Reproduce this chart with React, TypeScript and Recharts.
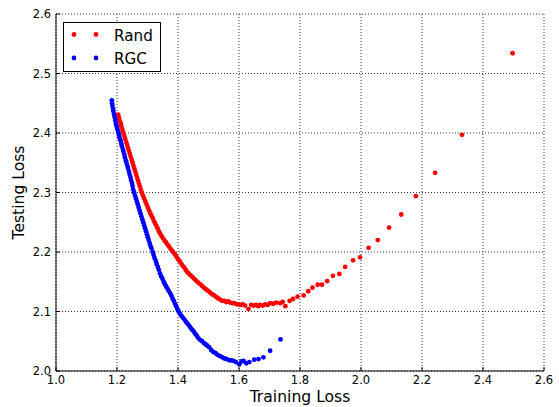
import React from 'react';
import { ScatterChart, Scatter, XAxis, YAxis, CartesianGrid } from 'recharts';

const xTicks = [1.0, 1.2, 1.4, 1.6, 1.8, 2.0, 2.2, 2.4, 2.6];
const yTicks = [2.0, 2.1, 2.2, 2.3, 2.4, 2.5, 2.6];

const randX = [
  1.204, 1.206, 1.208, 1.211, 1.213, 1.215, 1.218, 1.221, 1.224, 1.227, 1.230, 1.233, 1.236, 1.239, 1.242, 1.245,
  1.248, 1.251, 1.254, 1.257, 1.260, 1.263, 1.266, 1.269, 1.272, 1.275, 1.278, 1.281, 1.285, 1.289, 1.293, 1.297,
  1.301, 1.305, 1.309, 1.313, 1.317, 1.321, 1.325, 1.329, 1.333, 1.337, 1.341, 1.346, 1.351, 1.356, 1.361, 1.366,
  1.371, 1.376, 1.381, 1.385, 1.390, 1.395, 1.400, 1.405, 1.410, 1.415, 1.420, 1.425, 1.429, 1.435, 1.441, 1.447,
  1.453, 1.459, 1.465, 1.473, 1.479, 1.485, 1.492, 1.498, 1.505, 1.512, 1.519, 1.526, 1.532, 1.538, 1.545, 1.552,
  1.558, 1.565, 1.571, 1.578, 1.585, 1.592, 1.598, 1.605, 1.612, 1.620, 1.631, 1.640, 1.648, 1.656, 1.663, 1.669,
  1.678, 1.686, 1.694, 1.702, 1.712, 1.722, 1.735, 1.743, 1.752, 1.766, 1.777, 1.792, 1.812, 1.827, 1.841, 1.858,
  1.872, 1.889, 1.908, 1.929, 1.948, 1.974, 1.997, 2.025, 2.055, 2.092, 2.132, 2.180, 2.243, 2.331, 2.497,
];
const randY = [
  2.431, 2.426, 2.422, 2.418, 2.414, 2.410, 2.405, 2.400, 2.395, 2.390, 2.385, 2.380, 2.375, 2.370, 2.365, 2.360,
  2.355, 2.350, 2.345, 2.340, 2.335, 2.330, 2.325, 2.320, 2.315, 2.310, 2.305, 2.300, 2.295, 2.290, 2.285, 2.280,
  2.275, 2.270, 2.265, 2.261, 2.257, 2.252, 2.248, 2.244, 2.240, 2.235, 2.231, 2.227, 2.223, 2.219, 2.216, 2.212,
  2.209, 2.205, 2.202, 2.199, 2.196, 2.192, 2.188, 2.185, 2.181, 2.177, 2.174, 2.170, 2.167, 2.164, 2.161, 2.158,
  2.155, 2.152, 2.149, 2.146, 2.143, 2.140, 2.137, 2.135, 2.132, 2.129, 2.127, 2.124, 2.122, 2.120, 2.118, 2.118,
  2.116, 2.117, 2.115, 2.114, 2.114, 2.112, 2.112, 2.111, 2.112, 2.110, 2.104, 2.111, 2.110, 2.111, 2.109, 2.111,
  2.110, 2.112, 2.111, 2.114, 2.113, 2.115, 2.114, 2.116, 2.109, 2.118, 2.121, 2.125, 2.127, 2.134, 2.140, 2.145,
  2.145, 2.151, 2.160, 2.163, 2.175, 2.186, 2.191, 2.207, 2.220, 2.241, 2.263, 2.294, 2.333, 2.397, 2.534,
];

const rgcX = [
  1.183, 1.184, 1.185, 1.187, 1.188, 1.190, 1.192, 1.194, 1.196, 1.198, 1.200, 1.202, 1.205, 1.207, 1.209, 1.212,
  1.214, 1.216, 1.219, 1.221, 1.224, 1.226, 1.229, 1.231, 1.234, 1.236, 1.239, 1.241, 1.244, 1.246, 1.249, 1.251,
  1.253, 1.256, 1.259, 1.262, 1.265, 1.268, 1.271, 1.274, 1.277, 1.280, 1.283, 1.286, 1.289, 1.292, 1.295, 1.298,
  1.301, 1.304, 1.307, 1.310, 1.313, 1.317, 1.320, 1.323, 1.327, 1.330, 1.334, 1.337, 1.341, 1.345, 1.349, 1.353,
  1.357, 1.361, 1.365, 1.369, 1.374, 1.378, 1.382, 1.386, 1.390, 1.394, 1.398, 1.402, 1.407, 1.412, 1.417, 1.422,
  1.427, 1.432, 1.437, 1.442, 1.447, 1.452, 1.457, 1.462, 1.467, 1.473, 1.479, 1.485, 1.490, 1.495, 1.502, 1.509,
  1.516, 1.523, 1.530, 1.538, 1.545, 1.553, 1.560, 1.568, 1.575, 1.582, 1.590, 1.601, 1.608, 1.615, 1.624, 1.634,
  1.650, 1.664, 1.680, 1.702, 1.736,
];
const rgcY = [
  2.455, 2.450, 2.446, 2.441, 2.437, 2.432, 2.427, 2.422, 2.417, 2.413, 2.409, 2.405, 2.400, 2.396, 2.391, 2.387,
  2.382, 2.378, 2.373, 2.369, 2.364, 2.359, 2.354, 2.350, 2.345, 2.341, 2.336, 2.331, 2.326, 2.321, 2.316, 2.311,
  2.305, 2.300, 2.295, 2.290, 2.285, 2.280, 2.275, 2.270, 2.265, 2.260, 2.255, 2.250, 2.245, 2.240, 2.235, 2.230,
  2.225, 2.220, 2.215, 2.210, 2.206, 2.200, 2.195, 2.190, 2.185, 2.180, 2.175, 2.170, 2.164, 2.159, 2.155, 2.150,
  2.146, 2.142, 2.139, 2.135, 2.131, 2.127, 2.122, 2.118, 2.113, 2.109, 2.104, 2.100, 2.096, 2.092, 2.089, 2.086,
  2.082, 2.079, 2.076, 2.072, 2.069, 2.066, 2.062, 2.059, 2.055, 2.052, 2.050, 2.047, 2.045, 2.043, 2.040, 2.035,
  2.032, 2.030, 2.027, 2.025, 2.023, 2.021, 2.020, 2.018, 2.018, 2.017, 2.015, 2.011, 2.016, 2.017, 2.013, 2.015,
  2.019, 2.020, 2.023, 2.034, 2.053,
];

const randData = randX.map((x, i) => ({ x, y: randY[i] }));
const rgcData = rgcX.map((x, i) => ({ x, y: rgcY[i] }));

const FONT = '"DejaVu Sans", sans-serif';
const tickStyle = { fontSize: 11.5, fill: '#000', fontFamily: FONT };

const dot = (color: string) => (props: any) => (
  <circle cx={props.cx} cy={props.cy} r={2.4} fill={color} stroke="none" />
);

const XLabel = (props: any) => {
  const vb = props.viewBox;
  return (
    <text x={vb.x + vb.width / 2} y={vb.y + 31} textAnchor="middle" fontSize={15.6} fontFamily={FONT} fill="#000">
      Training Loss
    </text>
  );
};

const YLabel = (props: any) => {
  const vb = props.viewBox;
  const cx = 24;
  const cy = vb.y + vb.height / 2;
  return (
    <text x={cx} y={cy} textAnchor="middle" fontSize={15.6} fontFamily={FONT} fill="#000" transform={`rotate(-90, ${cx}, ${cy})`}>
      Testing Loss
    </text>
  );
};

export default function App() {
  return (
    <div style={{ position: 'absolute', left: 0, top: 0, width: 559, height: 407, background: '#fff' }}>
      <ScatterChart width={559} height={407} margin={{ top: 14, right: 15, bottom: 0, left: 16 }}>
        <CartesianGrid stroke="#333" strokeDasharray="1 2" strokeWidth={1} />
        <XAxis
          type="number"
          dataKey="x"
          domain={[1.0, 2.6]}
          ticks={xTicks}
          interval={0}
          allowDataOverflow
          height={36}
          tickSize={-4}
          tickMargin={9}
          tick={tickStyle}
          tickFormatter={(v: number) => v.toFixed(1)}
          axisLine={{ stroke: '#000', strokeWidth: 1 }}
          tickLine={{ stroke: '#000' }}
          label={<XLabel />}
        />
        <XAxis
          xAxisId="top"
          orientation="top"
          type="number"
          dataKey="x"
          domain={[1.0, 2.6]}
          ticks={xTicks}
          interval={0}
          allowDataOverflow
          height={0}
          tickSize={-4}
          tick={false}
          axisLine={{ stroke: '#000', strokeWidth: 1 }}
          tickLine={{ stroke: '#000' }}
        />
        <YAxis
          type="number"
          dataKey="y"
          domain={[2.0, 2.6]}
          ticks={yTicks}
          interval={0}
          allowDataOverflow
          width={40}
          tickSize={-4}
          tickMargin={9}
          tick={tickStyle}
          tickFormatter={(v: number) => v.toFixed(1)}
          axisLine={{ stroke: '#000', strokeWidth: 1 }}
          tickLine={{ stroke: '#000' }}
          label={<YLabel />}
        />
        <YAxis
          yAxisId="right"
          orientation="right"
          type="number"
          dataKey="y"
          domain={[2.0, 2.6]}
          ticks={yTicks}
          interval={0}
          allowDataOverflow
          width={0}
          tickSize={-4}
          tick={false}
          axisLine={{ stroke: '#000', strokeWidth: 1 }}
          tickLine={{ stroke: '#000' }}
        />
        <Scatter name="Rand" data={randData} fill="#ff0000" shape={dot('#ff0000')} isAnimationActive={false} />
        <Scatter name="RGC" data={rgcData} fill="#0000ff" shape={dot('#0000ff')} isAnimationActive={false} />
      </ScatterChart>
      <div
        style={{
          position: 'absolute',
          left: 63,
          top: 22,
          width: 98,
          height: 50,
          boxSizing: 'border-box',
          border: '1px solid #000',
          background: '#fff',
        }}
      >
        <svg width={96} height={48} style={{ display: 'block' }}>
          <circle cx={10} cy={11.5} r={2.4} fill="#ff0000" />
          <circle cx={32} cy={11.5} r={2.4} fill="#ff0000" />
          <text x={50} y={17.5} fontSize={15.2} fontFamily={FONT} fill="#000">Rand</text>
          <circle cx={10} cy={35} r={2.4} fill="#0000ff" />
          <circle cx={32} cy={35} r={2.4} fill="#0000ff" />
          <text x={50} y={41} fontSize={15.2} fontFamily={FONT} fill="#000">RGC</text>
        </svg>
      </div>
    </div>
  );
}
